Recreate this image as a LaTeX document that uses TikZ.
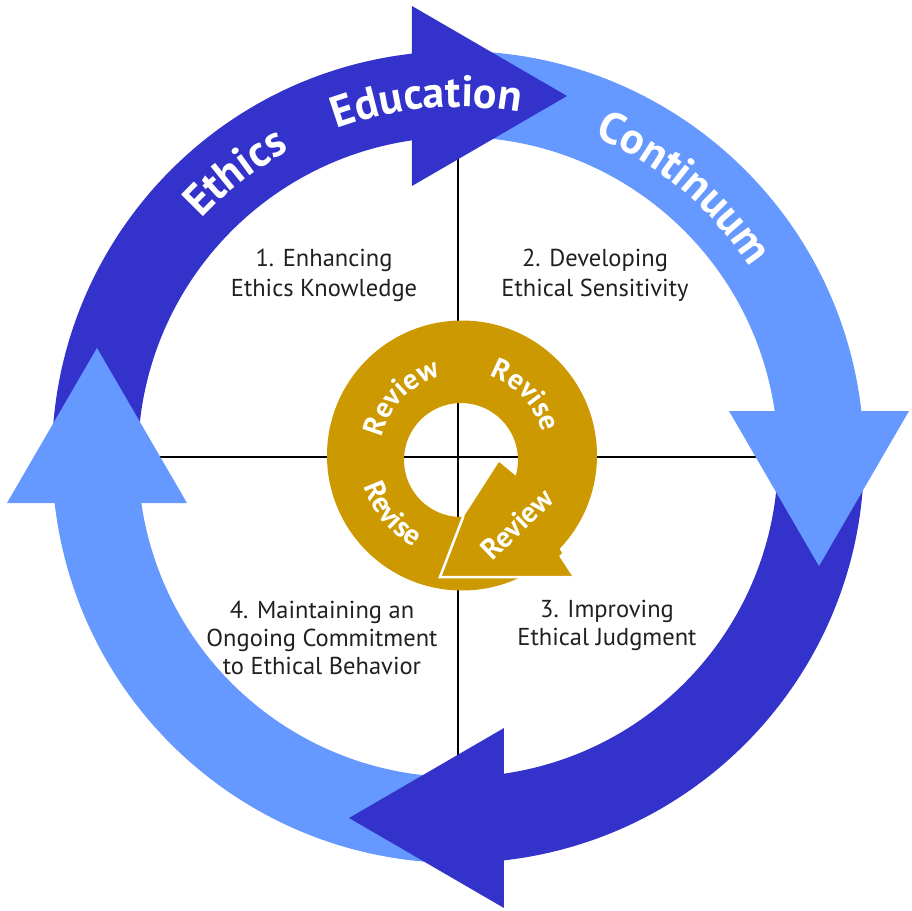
\documentclass[tikz,border=0pt]{standalone}
\usepackage{fontspec}
\setmainfont{PT Sans}
\usetikzlibrary{decorations.text}
\definecolor{arrowdark}{RGB}{51,51,204}
\definecolor{arrowlight}{RGB}{102,153,255}
\definecolor{goldring}{RGB}{204,153,0}
\definecolor{inktext}{RGB}{35,31,32}
\newcommand\ringfont{\fontsize{44}{44}\selectfont\bfseries}
\newcommand\goldfont{\fontsize{29}{29}\selectfont\bfseries}
\begin{document}
\begin{tikzpicture}[x=1pt,y=1pt,
  quadtext/.style={align=center, text=inktext, inner sep=0pt},
  crossline/.style={draw=black, line width=1.8pt}]
\useasboundingbox (-458,-454) rectangle (453,457);
% cross lines
\coordinate (top) at (0,320);
\coordinate (bot) at (0,-320);
\coordinate (lft) at (-320,0);
\coordinate (rgt) at (320,0);
\draw[crossline] (top) -- (bot);
\draw[crossline] (lft) -- (rgt);
% arrow bodies
\foreach \k/\c in {0/arrowdark,1/arrowlight,2/arrowdark,3/arrowlight}{
  \fill[\c, rotate=-90*\k] (180:406) arc[start angle=180, end angle=96.5, radius=406]
     -- (98.27:320) arc[start angle=98.27, end angle=180, radius=320] -- cycle;
}
% arrow heads
\foreach \k/\c in {0/arrowdark,1/arrowlight,2/arrowdark,3/arrowlight}{
  \fill[\c, rotate=-90*\k] (-46,271) -- (-46,451) -- (109,361) -- cycle;
}
% ring labels
\path[decorate, decoration={text along path, text align=center, text color=white, text={|\ringfont|Ethics}}]
  (168:350) arc[start angle=168, end angle=88, radius=350];
\path[decorate, decoration={text along path, text align=center, text color=white, text={|\ringfont|Education}}]
  (135:350) arc[start angle=135, end angle=55, radius=350];
\path[decorate, decoration={text along path, text align=center, text color=white, text={|\ringfont|Continuum}}]
  (90:348) arc[start angle=90, end angle=10, radius=348];
% gold cycle
\coordinate (G) at (4,1.5);
\fill[goldring, even odd rule] (4,1.5) circle[radius=135] (3,-3) circle[radius=57];
\fill[goldring] (-18,-120) -- (5,-61) -- (41,-5) -- (58,-19) -- (104,-96) -- (101,-99) -- (114,-119) -- cycle;
\draw[white, line width=2.5pt] (5.5,-59) -- (-18,-120) -- (112,-120);
\begin{scope}[shift={(4,1.5)}]
\path[decorate, decoration={text along path, text align=center, text color=white, text={|\goldfont|Review}}]
  (181:82) arc[start angle=181, end angle=91, radius=82];
\path[decorate, decoration={text along path, text align=center, text color=white, text={|\goldfont|Revise}}]
  (88.5:84) arc[start angle=88.5, end angle=-1.5, radius=84];
\path[decorate, decoration={text along path, text align=center, text color=white, text={|\goldfont|Revise}}]
  (175:103) arc[start angle=175, end angle=265, radius=103];
\end{scope}
\node[rotate=44, text=white, font=\goldfont, inner sep=0pt] (rv2) at (59,-67) {Review};
% quadrant texts
\node[quadtext, font=\fontsize{24.5}{30}\selectfont] (q1) at (-134,181.5) {1. Enhancing\\Ethics Knowledge};
\node[quadtext, font=\fontsize{24.5}{30}\selectfont] (q2) at (137,181.5) {2. Developing\\Ethical Sensitivity};
\node[quadtext, font=\fontsize{24.5}{28}\selectfont] (q3) at (149,-168.5) {3. Improving\\Ethical Judgment};
\node[quadtext, font=\fontsize{24.5}{28}\selectfont] (q4) at (-136,-180.5) {4. Maintaining an\\Ongoing Commitment\\to Ethical Behavior};
\end{tikzpicture}
\end{document}
